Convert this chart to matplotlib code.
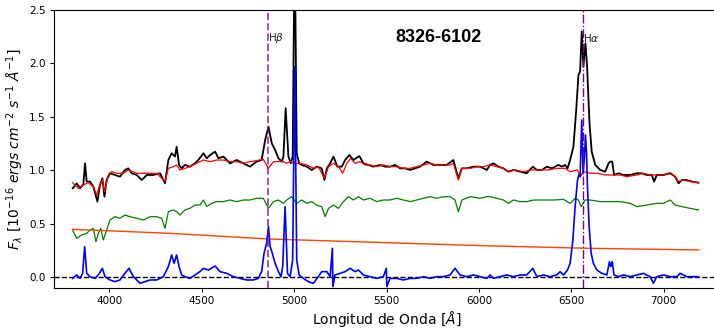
import matplotlib
matplotlib.use("Agg")
import matplotlib.pyplot as plt
import numpy as np

# ---------------- data ----------------
wl_obs = [3801, 3823, 3841, 3859, 3868, 3877, 3895, 3913, 3935, 3949, 3962, 3973, 3985,
          4003, 4030, 4057, 4084, 4102, 4121, 4148, 4175, 4202, 4238, 4274, 4301, 4319,
          4337, 4355, 4364, 4377, 4391, 4409, 4436, 4463, 4481, 4509, 4527, 4545, 4572,
          4590, 4617, 4653, 4689, 4725, 4761, 4797, 4824, 4843, 4861, 4879, 4897, 4915,
          4933, 4942, 4954, 4969, 4982, 4992, 5003, 5014, 5027, 5041, 5068, 5095, 5122,
          5149, 5164, 5177, 5195, 5213, 5234, 5258, 5276, 5299, 5321, 5353, 5375, 5402,
          5429, 5465, 5492, 5519, 5547, 5574, 5601, 5628, 5655, 5682, 5718, 5754, 5790,
          5826, 5862, 5889, 5908, 5935, 5971, 6007, 6043, 6061, 6079, 6106, 6133, 6160,
          6187, 6223, 6259, 6292, 6314, 6341, 6368, 6395, 6431, 6449, 6467, 6480, 6494,
          6512, 6527, 6539, 6548, 6557, 6566, 6577, 6586, 6599, 6611, 6630, 6657, 6684,
          6702, 6711, 6722, 6732, 6756, 6783, 6819, 6855, 6882, 6909, 6936, 6949, 6963,
          6999, 7036, 7063, 7081, 7099, 7126, 7153, 7189]
flux_obs = [0.832, 0.879, 0.832, 0.870, 1.066, 0.895, 0.895, 0.848, 0.708, 0.863, 0.926, 0.754, 0.910,
            0.973, 0.957, 0.941, 1.004, 1.019, 0.973, 0.957, 0.910, 0.957, 0.957, 0.973, 0.879, 1.097,
            1.160, 1.129, 1.222, 1.051, 1.019, 1.051, 1.035, 1.066, 1.097, 1.160, 1.113, 1.144, 1.175,
            1.113, 1.129, 1.066, 1.097, 1.066, 1.035, 1.082, 1.097, 1.284, 1.409, 1.253, 1.191, 1.113,
            1.082, 1.129, 1.581, 1.129, 1.066, 1.129, 3.200, 1.160, 1.066, 1.051, 1.035, 1.004, 1.035,
            1.019, 0.910, 1.019, 1.066, 1.129, 1.035, 1.035, 1.097, 1.144, 1.097, 1.135, 1.066, 1.051,
            1.035, 1.051, 1.035, 1.035, 1.051, 1.019, 1.019, 1.004, 1.019, 1.035, 1.082, 1.051, 1.051,
            1.051, 1.097, 0.926, 1.019, 1.019, 1.035, 1.035, 1.004, 1.051, 1.066, 1.035, 1.019, 0.988,
            1.004, 0.988, 0.973, 1.035, 1.004, 1.004, 1.035, 1.019, 1.051, 1.035, 1.051, 1.019, 1.097,
            1.222, 1.565, 1.892, 1.924, 2.298, 1.970, 2.189, 1.970, 1.440, 1.175, 1.051, 1.004, 0.988,
            1.066, 1.082, 1.082, 0.957, 0.973, 0.957, 0.957, 0.973, 0.973, 0.957, 0.957, 0.895, 0.957,
            0.957, 0.973, 0.941, 0.879, 0.910, 0.910, 0.895, 0.885]

wl_mod = [3801, 3832, 3859, 3886, 3913, 3931, 3945, 3962, 3973, 3994, 4012, 4039, 4075,
          4102, 4148, 4202, 4256, 4301, 4319, 4346, 4364, 4382, 4409, 4436, 4472, 4509,
          4545, 4581, 4617, 4653, 4689, 4725, 4761, 4797, 4833, 4861, 4888, 4915, 4942,
          4960, 4978, 5005, 5032, 5068, 5104, 5131, 5164, 5186, 5213, 5240, 5263, 5285,
          5306, 5330, 5357, 5384, 5411, 5447, 5483, 5519, 5556, 5592, 5628, 5664, 5700,
          5736, 5772, 5808, 5844, 5862, 5889, 5908, 5953, 5989, 6025, 6061, 6097, 6133,
          6160, 6196, 6241, 6287, 6332, 6377, 6422, 6467, 6494, 6534, 6548, 6566, 6602,
          6639, 6684, 6729, 6765, 6801, 6855, 6891, 6927, 6963, 6999, 7036, 7063, 7081,
          7108, 7144, 7189]
flux_mod = [0.885, 0.832, 0.863, 0.885, 0.848, 0.770, 0.848, 0.910, 0.801, 0.957, 0.988, 0.973, 0.973,
            1.004, 0.973, 0.973, 0.973, 0.895, 1.019, 1.035, 1.051, 1.004, 1.019, 1.035, 1.066, 1.097,
            1.082, 1.097, 1.097, 1.082, 1.082, 1.066, 1.082, 1.091, 1.104, 1.019, 1.082, 1.082, 1.082,
            1.066, 1.082, 1.066, 1.066, 1.051, 1.019, 1.035, 0.926, 1.035, 1.066, 1.035, 0.973, 1.066,
            1.113, 1.066, 1.082, 1.051, 1.051, 1.035, 1.051, 1.035, 1.035, 1.019, 1.019, 1.035, 1.051,
            1.066, 1.051, 1.051, 1.051, 1.066, 0.910, 1.019, 1.019, 1.035, 1.035, 1.051, 1.035, 1.019,
            0.988, 1.004, 0.988, 1.004, 1.004, 1.004, 1.019, 1.019, 0.988, 1.004, 0.941, 0.988, 0.973,
            0.973, 0.957, 0.957, 0.957, 0.941, 0.957, 0.973, 0.957, 0.957, 0.957, 0.979, 0.941, 0.895,
            0.910, 0.895, 0.885]

wl_star = [3801, 3823, 3850, 3877, 3895, 3913, 3927, 3940, 3953, 3967, 3985, 4003, 4030,
           4057, 4084, 4111, 4148, 4184, 4220, 4256, 4283, 4301, 4319, 4346, 4364, 4382,
           4409, 4436, 4463, 4490, 4509, 4527, 4554, 4581, 4617, 4653, 4689, 4725, 4761,
           4797, 4833, 4861, 4888, 4915, 4942, 4960, 4987, 5014, 5041, 5068, 5095, 5122,
           5149, 5168, 5186, 5213, 5240, 5267, 5294, 5321, 5348, 5375, 5411, 5447, 5483,
           5519, 5556, 5592, 5628, 5664, 5700, 5736, 5772, 5808, 5844, 5871, 5889, 5908,
           5953, 6007, 6043, 6061, 6097, 6133, 6160, 6187, 6223, 6259, 6296, 6350, 6404,
           6458, 6494, 6521, 6539, 6554, 6575, 6602, 6657, 6711, 6765, 6819, 6855, 6909,
           6963, 6999, 7036, 7063, 7099, 7144, 7189]
flux_star = [0.442, 0.365, 0.396, 0.411, 0.442, 0.458, 0.333, 0.411, 0.458, 0.349, 0.442, 0.536, 0.567,
             0.552, 0.583, 0.567, 0.552, 0.536, 0.567, 0.567, 0.552, 0.458, 0.614, 0.630, 0.614, 0.583,
             0.630, 0.645, 0.676, 0.676, 0.723, 0.661, 0.692, 0.708, 0.708, 0.723, 0.708, 0.723, 0.723,
             0.739, 0.739, 0.645, 0.708, 0.723, 0.692, 0.723, 0.754, 0.692, 0.723, 0.692, 0.708, 0.676,
             0.661, 0.567, 0.645, 0.676, 0.645, 0.708, 0.754, 0.723, 0.754, 0.723, 0.739, 0.708, 0.723,
             0.723, 0.739, 0.723, 0.708, 0.723, 0.739, 0.754, 0.739, 0.754, 0.754, 0.723, 0.614, 0.723,
             0.754, 0.739, 0.754, 0.754, 0.739, 0.723, 0.692, 0.723, 0.708, 0.708, 0.723, 0.723, 0.723,
             0.729, 0.692, 0.739, 0.723, 0.661, 0.723, 0.723, 0.708, 0.708, 0.708, 0.692, 0.661, 0.676,
             0.692, 0.692, 0.723, 0.676, 0.661, 0.645, 0.630]

wl_pl = [3800, 4330, 4870, 5500, 6080, 6600, 7190]
flux_pl = [0.449, 0.411, 0.358, 0.324, 0.293, 0.271, 0.256]

wl_res = [3801, 3823, 3841, 3855, 3866, 3877, 3895, 3922, 3940, 3962, 3976, 4003, 4030,
          4057, 4084, 4106, 4130, 4166, 4193, 4220, 4256, 4292, 4319, 4337, 4350, 4364,
          4377, 4391, 4409, 4436, 4463, 4490, 4509, 4536, 4572, 4599, 4635, 4671, 4707,
          4743, 4779, 4806, 4824, 4837, 4851, 4861, 4870, 4882, 4897, 4915, 4929, 4938,
          4951, 4964, 4978, 4992, 5003, 5014, 5027, 5050, 5077, 5104, 5131, 5149, 5177,
          5195, 5207, 5210, 5221, 5249, 5276, 5303, 5330, 5348, 5375, 5411, 5447, 5483,
          5499, 5502, 5519, 5556, 5592, 5628, 5664, 5700, 5736, 5772, 5808, 5844, 5871,
          5898, 5935, 5971, 6007, 6043, 6061, 6079, 6115, 6151, 6187, 6223, 6259, 6292,
          6314, 6350, 6386, 6422, 6440, 6458, 6480, 6494, 6509, 6521, 6534, 6541, 6548,
          6557, 6564, 6572, 6577, 6583, 6588, 6597, 6608, 6620, 6639, 6666, 6693, 6707,
          6714, 6722, 6732, 6756, 6783, 6819, 6855, 6891, 6927, 6945, 6963, 6999, 7036,
          7072, 7090, 7126, 7162, 7189]
flux_res = [-0.010, 0.022, -0.010, 0.037, 0.287, 0.037, 0.006, -0.010, 0.022, 0.084, 0.006, -0.025, -0.041,
            -0.025, 0.037, 0.084, 0.006, -0.056, -0.041, -0.025, -0.025, 0.006, 0.100, 0.209, 0.131, 0.209,
            0.100, 0.022, 0.006, -0.010, 0.022, 0.053, 0.084, 0.068, 0.106, 0.053, 0.037, 0.006, -0.010,
            -0.025, -0.025, -0.010, 0.053, 0.224, 0.318, 0.474, 0.287, 0.224, 0.131, 0.053, 0.006, 0.100,
            0.661, 0.037, 0.006, 0.162, 1.970, 0.162, 0.022, -0.010, -0.041, -0.056, 0.006, 0.053, 0.053,
            0.006, 0.271, -0.087, 0.022, 0.037, 0.053, 0.084, 0.053, 0.068, 0.022, 0.006, -0.010, 0.006,
            0.084, -0.087, -0.010, -0.010, -0.025, -0.010, -0.010, 0.006, -0.010, 0.006, 0.006, 0.022, 0.084,
            0.022, 0.006, 0.022, 0.006, -0.010, 0.022, -0.010, 0.006, 0.022, 0.006, 0.022, 0.022, 0.084,
            0.006, 0.022, 0.006, 0.022, 0.053, 0.022, 0.068, 0.131, 0.349, 0.661, 0.910, 0.957, 0.941,
            1.471, 0.973, 1.129, 1.331, 1.160, 0.848, 0.474, 0.224, 0.131, 0.068, 0.037, 0.022, 0.146,
            0.100, 0.146, 0.022, 0.006, 0.022, 0.006, 0.022, 0.037, 0.006, -0.056, 0.006, 0.022, 0.006,
            0.006, 0.037, 0.006, 0.006, 0.006]

lines_wl = [4861, 6563]
lines_lab = [r"H$\beta$", r"H$\alpha$"]
title_text = "8326-6102"
xticks = [4000, 4500, 5000, 5500, 6000, 6500, 7000]
yticks = [0.0, 0.5, 1.0, 1.5, 2.0, 2.5]

# ---------------- figure ----------------
fig = plt.figure(figsize=(7.14, 3.33), dpi=100)
ax = fig.add_axes([54 / 714, 45 / 333, 665 / 714, 278 / 333])

ax.plot(wl_obs, flux_obs, color="black", lw=1.3, zorder=2)
ax.plot(wl_mod, flux_mod, color="red", lw=0.9, zorder=3)
ax.plot(wl_star, flux_star, color="green", lw=0.9, zorder=3)
ax.plot(wl_pl, flux_pl, color="orangered", lw=1.0, zorder=3)
ax.plot(wl_res, flux_res, color="blue", lw=1.2, zorder=4)
ax.axhline(0.0, color="black", ls="--", lw=1.0, zorder=1)

ax.axvline(lines_wl[0], color="darkmagenta", alpha=0.7, ls="--", lw=1.4, zorder=5)
ax.axvline(lines_wl[1], color="purple", ls="-.", lw=1.0, zorder=5)
ax.text(lines_wl[0], 2.24, lines_lab[0], fontsize=7.5, color="#222222", ha="left", va="center")
ax.text(lines_wl[1], 2.24, lines_lab[1], fontsize=7.5, color="#222222", ha="left", va="center")

ax.text(5779, 2.24, title_text, fontsize=13, fontweight="bold", family="Liberation Sans",
        ha="center", va="center")

ax.set_xlim(3700, 7300)
ax.set_ylim(-0.1, 2.5)
ax.set_xticks(xticks)
ax.set_yticks(yticks)
ax.tick_params(labelsize=7.5, length=3, pad=3)
ax.set_xlabel(r"Longitud de Onda [$\AA$]", fontsize=10, labelpad=2)
ax.set_ylabel(r"$F_\lambda$ [$10^{-16}$ $ergs$ $cm^{-2}$ $s^{-1}$ $\AA^{-1}$]", fontsize=10, labelpad=2)

fig.savefig("out.png", dpi=100)
